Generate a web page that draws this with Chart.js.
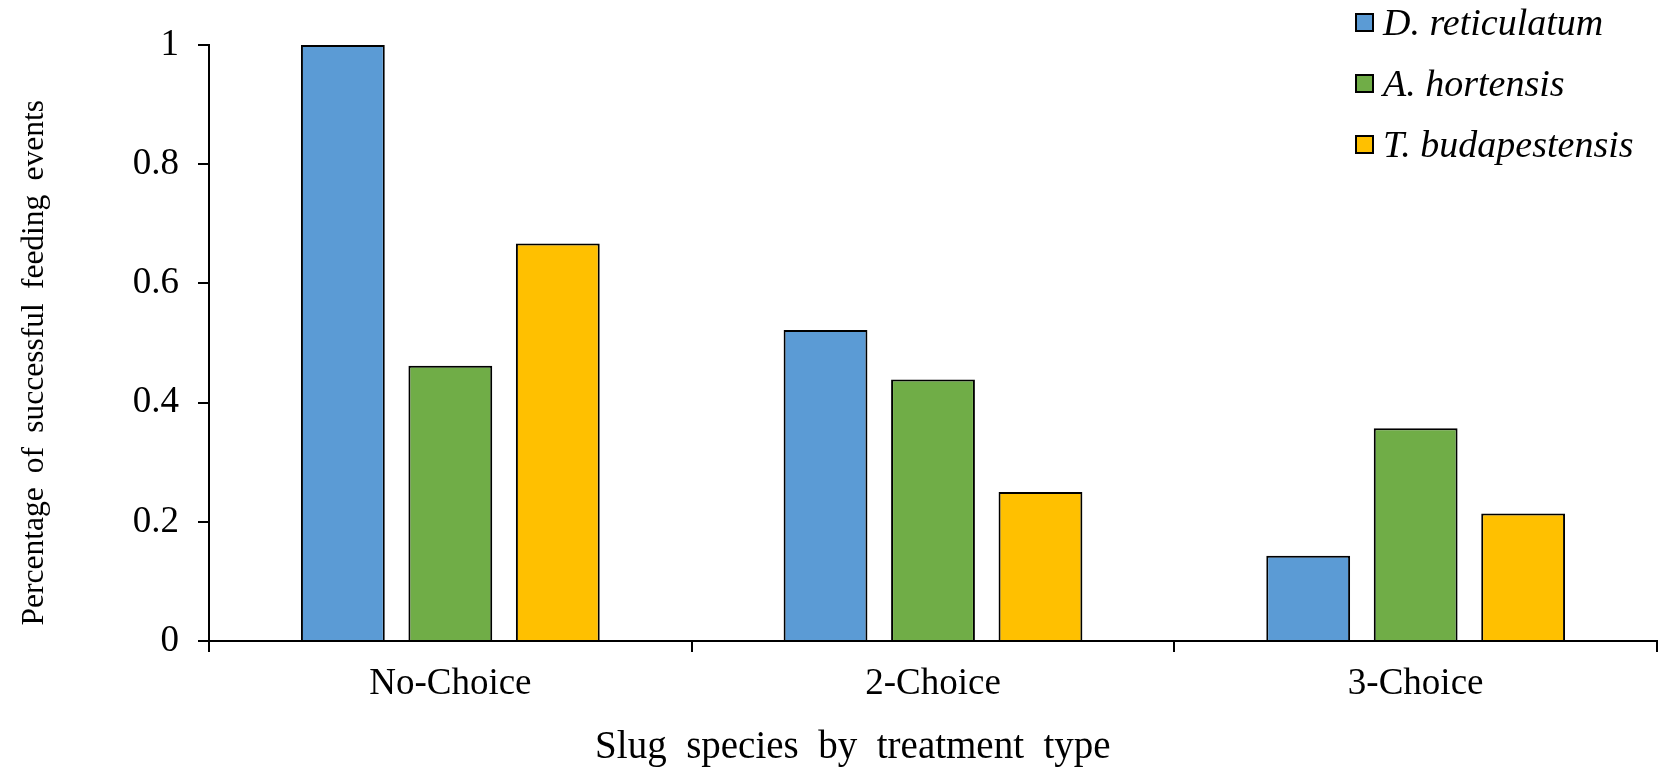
<!DOCTYPE html>
<html>
<head>
<meta charset="utf-8">
<script src="https://cdn.jsdelivr.net/npm/chart.js@4.4.1/dist/chart.umd.min.js"></script>
<style>
  html, body { margin: 0; padding: 0; background: #fff; }
  #wrap { position: relative; width: 1661px; height: 769px; }
  #legend { position: absolute; left: 1355px; top: 0; font-family: 'Liberation Serif', 'Times New Roman', serif; font-style: italic; font-size: 38px; color: #000; }
  .item { position: absolute; left: 0; height: 44px; display: flex; align-items: center; white-space: pre; }
  .box { width: 19px; height: 19px; box-sizing: border-box; border: 2px solid #000; margin-right: 9px; }
</style>
</head>
<body>
<div id="wrap">
  <canvas id="chart" width="1661" height="769"></canvas>
  <div id="legend"></div>
</div>
<script>
// Данные графика
const categories = ['No-Choice', '2-Choice', '3-Choice'];
const seriesNames = ['D. reticulatum', 'A. hortensis', 'T. budapestensis'];
const seriesColors = ['#5B9BD5', '#70AD47', '#FFC000'];
const dReticulatum = [1.0, 0.522, 0.143];
const aHortensis = [0.462, 0.439, 0.357];
const tBudapestensis = [0.667, 0.25, 0.214];
const yTickValues = [0, 0.2, 0.4, 0.6, 0.8, 1];

// пробелы по краям сдвигают подписи как в оригинале
const xTitle = '     Slug  species  by  treatment  type';
const yTitle = 'Percentage \u2009of \u2009successful \u2009feeding \u2009events     ';

const seriesValues = [dReticulatum, aHortensis, tBudapestensis];
const fontFamily = "'Liberation Serif', 'Times New Roman', serif";

// Легенда справа сверху
const legendEl = document.getElementById('legend');
seriesNames.forEach((name, i) => {
  const item = document.createElement('div');
  item.className = 'item';
  item.style.top = (0 + i * 61) + 'px';
  const box = document.createElement('span');
  box.className = 'box';
  box.style.background = seriesColors[i];
  const label = document.createElement('span');
  label.textContent = name;
  item.appendChild(box);
  item.appendChild(label);
  legendEl.appendChild(item);
});

const ctx = document.getElementById('chart').getContext('2d');
new Chart(ctx, {
  type: 'bar',
  data: {
    labels: categories,
    datasets: seriesNames.map((name, i) => ({
      label: name,
      data: seriesValues[i],
      backgroundColor: seriesColors[i],
      borderColor: '#000',
      borderWidth: 2,
      categoryPercentage: 0.668,
      barPercentage: 0.78
    }))
  },
  options: {
    responsive: false,
    animation: false,
    devicePixelRatio: 1,
    layout: { padding: { left: 0, right: 4, top: 45, bottom: 0 } },
    plugins: {
      legend: { display: false },
      tooltip: { enabled: false },
      // подпись оси X — через заголовок снизу
      title: {
        display: true,
        position: 'bottom',
        text: xTitle,
        color: '#000',
        padding: 0,
        font: { family: fontFamily, size: 39, weight: 'normal', lineHeight: 1.1 }
      }
    },
    scales: {
      x: {
        afterFit: s => { s.height = 85; },
        border: { color: '#000', width: 2 },
        grid: { drawOnChartArea: false, tickLength: 11, color: '#000', lineWidth: 2 },
        ticks: { color: '#000', padding: 10, font: { family: fontFamily, size: 37 } }
      },
      y: {
        min: 0,
        max: 1,
        afterFit: s => { s.width = 209; },
        afterBuildTicks: s => { s.ticks = yTickValues.map(v => ({ value: v })); },
        border: { color: '#000', width: 2 },
        grid: { drawOnChartArea: false, tickLength: 11, color: '#000', lineWidth: 2 },
        ticks: { color: '#000', padding: 19, font: { family: fontFamily, size: 37 }, callback: v => String(v) },
        title: { display: true, text: yTitle, color: '#000', padding: { top: 16, bottom: 0 }, font: { family: fontFamily, size: 31.5, lineHeight: 1.2 } }
      }
    }
  }
});
</script>
</body>
</html>
